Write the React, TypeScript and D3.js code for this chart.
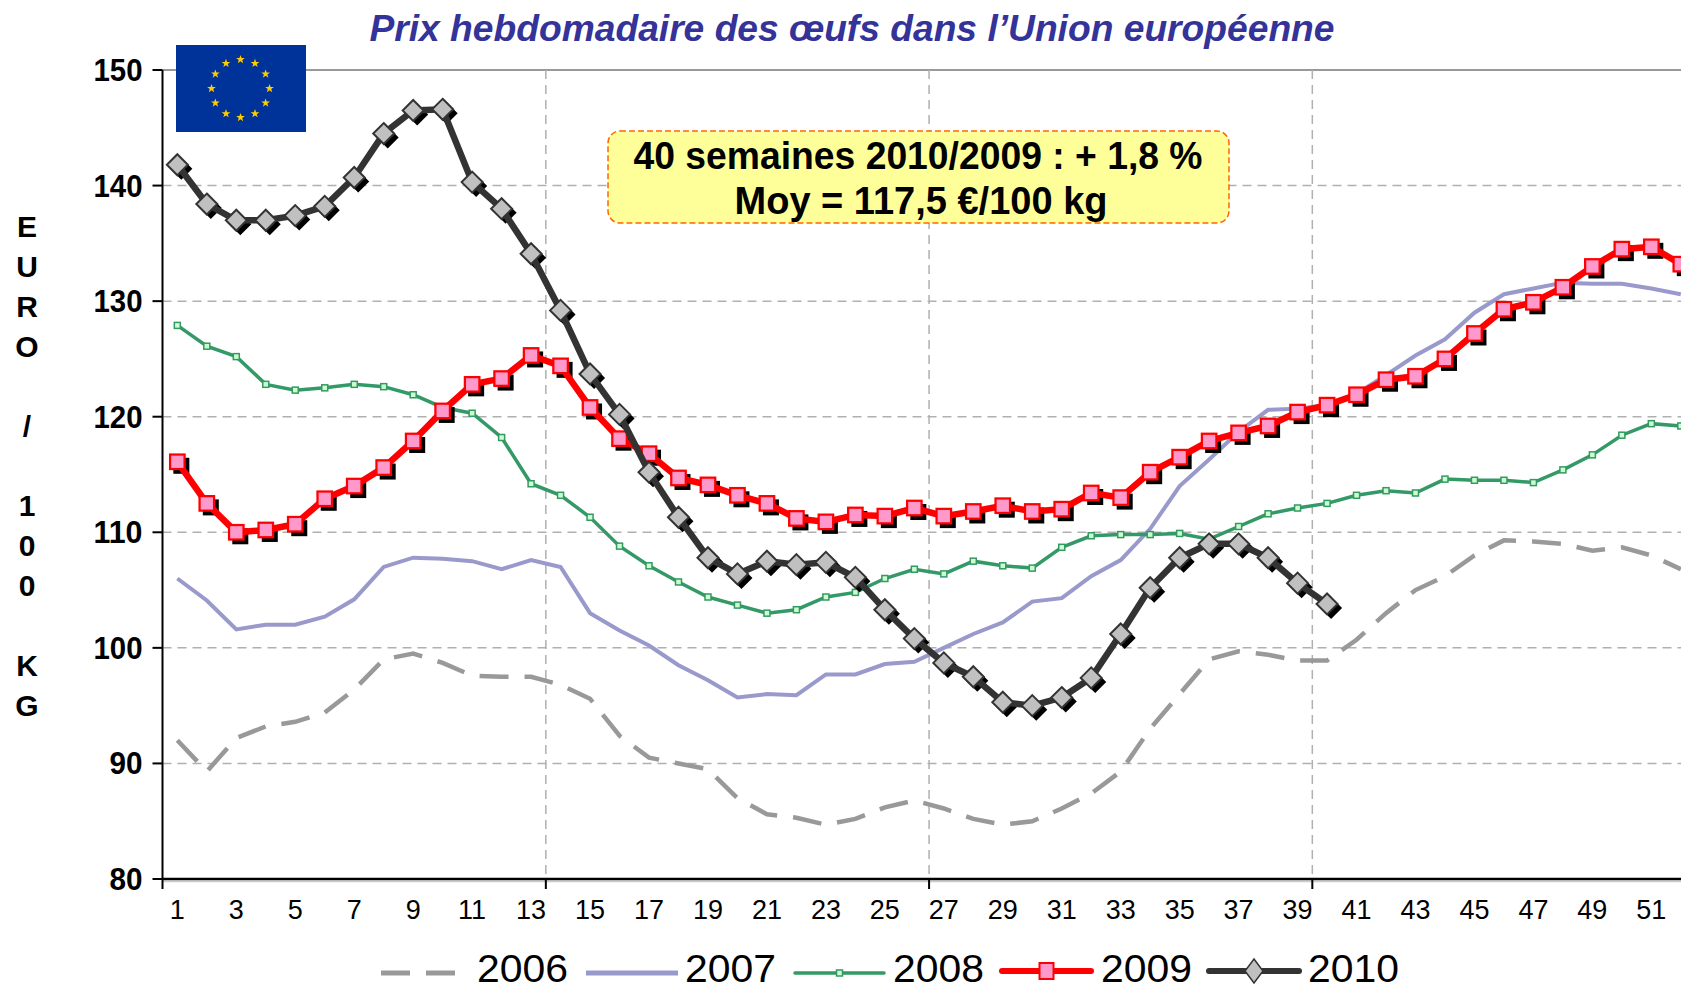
import React from "react";
import * as d3 from "d3";

const weeks = d3.range(1, 53);
const yTicks = [80, 90, 100, 110, 120, 130, 140, 150];
const gridWeeks = [13, 26, 39];
const y2006 = [92,89.3,92.2,93.2,93.6,94.4,96.4,99,99.5,98.7,97.6,97.5,97.5,96.8,95.6,92.4,90.5,90,89.5,87,85.6,85.3,84.7,85.2,86.2,86.8,86.1,85.2,84.7,85,86.1,87.4,89.3,93,96,99,99.7,99.4,98.9,98.9,100.7,103,105,106.2,108,109.3,109.2,109,108.4,108.7,108,106.8];
const y2007 = [106,104.1,101.6,102,102,102.7,104.2,107,107.8,107.7,107.5,106.8,107.6,107,103,101.5,100.2,98.5,97.2,95.7,96,95.9,97.7,97.7,98.6,98.8,100,101.2,102.2,104,104.3,106.2,107.6,110.3,114,116.3,118.7,120.6,120.7,121,122,123.6,125.3,126.7,129,130.6,131.1,131.6,131.5,131.5,131.1,130.6];
const y2008 = [127.9,126.1,125.2,122.8,122.3,122.5,122.8,122.6,121.9,120.8,120.3,118.2,114.2,113.2,111.3,108.8,107.1,105.7,104.4,103.7,103,103.3,104.4,104.8,106,106.8,106.4,107.5,107.1,106.9,108.7,109.7,109.8,109.8,109.9,109.4,110.5,111.6,112.1,112.5,113.2,113.6,113.4,114.6,114.5,114.5,114.3,115.4,116.7,118.4,119.4,119.2];
const y2009 = [116.1,112.5,110,110.2,110.7,112.9,114,115.6,117.9,120.5,122.8,123.3,125.3,124.4,120.8,118.1,116.8,114.7,114.1,113.2,112.5,111.2,110.9,111.5,111.4,112.1,111.4,111.8,112.3,111.8,112,113.4,113,115.2,116.5,117.9,118.6,119.2,120.4,121,121.9,123.2,123.5,125,127.2,129.3,129.9,131.2,133,134.5,134.7,133.2];
const y2010 = [141.8,138.4,137,137,137.4,138.2,140.7,144.5,146.5,146.6,140.3,138,134.1,129.2,123.7,120.2,115.2,111.3,107.8,106.4,107.5,107.2,107.4,106.1,103.3,100.8,98.7,97.5,95.3,95,95.7,97.4,101.2,105.2,107.8,109,109,107.8,105.6,103.8];
const yLabelChars = ["E", "U", "R", "O", "", "/", "", "1", "0", "0", "", "K", "G"];

const FONT = "'Liberation Sans', Arial, sans-serif";
const axisX = 162.5, bandStart = 162.6, bw = 29.48, top = 70, bottom = 879;
const x = d3.scaleBand<number>().domain(weeks).range([bandStart, bandStart + 52 * bw]);
const y = d3.scaleLinear().domain([80, 150]).range([bottom, top]);
const cx = (w: number) => (x(w) as number) + x.bandwidth() / 2;
const edge = (w: number) => bandStart + w * x.bandwidth();
const makeLine = (vals: number[]) =>
  d3.line<number>().x((_, i) => cx(i + 1)).y((v) => y(v))(vals) as string;

const diamond = (c: number, d: number, r: number) => `M${c},${d - r}L${c + r},${d}L${c},${d + r}L${c - r},${d}Z`;

function star(cxv: number, cyv: number, r: number) {
  const pts = d3.range(10).map((i) => {
    const a = -Math.PI / 2 + (i * Math.PI) / 5;
    const rr = i % 2 ? r * 0.4 : r;
    return `${cxv + rr * Math.cos(a)},${cyv + rr * Math.sin(a)}`;
  });
  return `M${pts.join("L")}Z`;
}

const legendItems = [
  { name: "2006", x1: 381, x2: 456, tx: 477 },
  { name: "2007", x1: 586, x2: 678, tx: 685 },
  { name: "2008", x1: 795, x2: 884, tx: 893 },
  { name: "2009", x1: 1002, x2: 1091, tx: 1101 },
  { name: "2010", x1: 1209, x2: 1299, tx: 1308 },
];

export default function App() {
  const flagCx = 240.5, flagCy = 88.5;
  return (
    <svg width={1681} height={990} viewBox="0 0 1681 990" style={{ position: "absolute", left: 0, top: 0, display: "block", background: "#fff" }} fontFamily={FONT}>
      {/* grid */}
      {yTicks.filter((t) => t > 80 && t < 150).map((t) => (
        <line key={t} x1={axisX} x2={1681} y1={y(t)} y2={y(t)} stroke="#b0b0b0" strokeWidth={1.5} strokeDasharray="9 6" />
      ))}
      <line x1={axisX} x2={1681} y1={y(150)} y2={y(150)} stroke="#999" strokeWidth={2} />
      {gridWeeks.map((w) => (
        <line key={w} x1={edge(w)} x2={edge(w)} y1={top} y2={bottom} stroke="#b0b0b0" strokeWidth={1.5} strokeDasharray="9 6" />
      ))}
      {/* axes */}
      <line x1={axisX} x2={1681} y1={bottom + 2.5} y2={bottom + 2.5} stroke="#ccc" strokeWidth={1.5} />
      <line x1={axisX} x2={axisX} y1={top} y2={bottom + 10} stroke="#000" strokeWidth={2} />
      <line x1={axisX} x2={1681} y1={bottom} y2={bottom} stroke="#000" strokeWidth={2.5} />
      {yTicks.map((t) => (
        <g key={t}>
          <line x1={axisX - 10} x2={axisX} y1={y(t)} y2={y(t)} stroke="#000" strokeWidth={2} />
          <text x={142.5} y={y(t) + 11} textAnchor="end" fontSize={31} fontWeight="bold" fill="#000" textLength={t >= 100 ? 49 : 33} lengthAdjust="spacingAndGlyphs">{t}</text>
        </g>
      ))}
      {gridWeeks.map((w) => (
        <line key={w} x1={edge(w)} x2={edge(w)} y1={bottom} y2={bottom + 10} stroke="#000" strokeWidth={2} />
      ))}
      {weeks.filter((w) => w % 2 === 1).map((w) => (
        <text key={w} x={cx(w)} y={919} textAnchor="middle" fontSize={27} fill="#000">{w}</text>
      ))}
      {/* y label */}
      {yLabelChars.map((c, i) => c ? (
        <text key={i} x={27} y={237 + i * 39.9} textAnchor="middle" fontSize={30} fontWeight="bold" fill="#000">{c}</text>
      ) : null)}
      {/* title */}
      <text x={852} y={41} textAnchor="middle" fontSize={36} fontWeight="bold" fontStyle="italic" fill="#333399" textLength={965} lengthAdjust="spacingAndGlyphs">Prix hebdomadaire des œufs dans l’Union européenne</text>
      {/* series */}
      <path d={makeLine(y2006)} fill="none" stroke="#999" strokeWidth={4.5} strokeDasharray="29 16" />
      <path d={makeLine(y2007)} fill="none" stroke="#9999cc" strokeWidth={4} />
      <path d={makeLine(y2008)} fill="none" stroke="#339966" strokeWidth={3.5} />
      {y2008.map((v, i) => (
        <rect key={i} x={cx(i + 1) - 3} y={y(v) - 3} width={6} height={6} fill="#ccffcc" stroke="#339966" strokeWidth={1.5} />
      ))}
      {y2009.map((v, i) => (
        <rect key={i} x={cx(i + 1) - 4} y={y(v) - 4} width={16} height={16} fill="#000" />
      ))}
      <path d={makeLine(y2009)} fill="none" stroke="#ff0000" strokeWidth={6.5} />
      {y2009.map((v, i) => (
        <rect key={i} x={cx(i + 1) - 7.25} y={y(v) - 7.25} width={14.5} height={14.5} fill="#ff99cc" stroke="#ff0000" strokeWidth={2.25} />
      ))}
      {y2010.map((v, i) => (
        <path key={i} d={diamond(cx(i + 1) + 4, y(v) + 4, 11)} fill="#000" />
      ))}
      <path d={makeLine(y2010)} fill="none" stroke="#333" strokeWidth={6.5} />
      {y2010.map((v, i) => (
        <path key={i} d={diamond(cx(i + 1), y(v), 10.5)} fill="#c0c0c0" stroke="#333" strokeWidth={2} />
      ))}
      {/* flag */}
      <rect x={176} y={45} width={130} height={87} fill="#003399" />
      {d3.range(12).map((i) => {
        const a = (i * Math.PI) / 6;
        return <path key={i} d={star(flagCx + 29 * Math.sin(a), flagCy - 29 * Math.cos(a), 4.6)} fill="#ffcc00" />;
      })}
      {/* note box */}
      <rect x={608} y={131} width={621} height={92} rx={12} ry={12} fill="#ffff99" stroke="#ff6600" strokeWidth={1.5} strokeDasharray="6 3" />
      <text x={918} y={169} textAnchor="middle" fontSize={38} fontWeight="bold" textLength={569} lengthAdjust="spacingAndGlyphs">40 semaines 2010/2009 : + 1,8 %</text>
      <text x={921} y={214} textAnchor="middle" fontSize={38} fontWeight="bold" textLength={373} lengthAdjust="spacingAndGlyphs">Moy = 117,5 €/100 kg</text>
      {/* legend */}
      {legendItems.map((it) => {
        const m = (it.x1 + it.x2) / 2;
        return (
          <g key={it.name}>
            {it.name === "2006" && <line x1={it.x1} x2={it.x2} y1={973} y2={973} stroke="#999" strokeWidth={5} strokeDasharray="29 16" />}
            {it.name === "2007" && <line x1={it.x1} x2={it.x2} y1={973} y2={973} stroke="#9999cc" strokeWidth={5} />}
            {it.name === "2008" && <g>
              <line x1={it.x1} x2={it.x2} y1={973} y2={973} stroke="#339966" strokeWidth={3.5} strokeLinecap="round" />
              <rect x={m - 3} y={970} width={6} height={6} fill="#ccffcc" stroke="#339966" strokeWidth={1.5} />
            </g>}
            {it.name === "2009" && <g>
              <line x1={it.x1} x2={it.x2} y1={971} y2={971} stroke="#ff0000" strokeWidth={6} strokeLinecap="round" />
              <rect x={m - 7} y={963} width={14} height={16} fill="#ff99cc" stroke="#ff0000" strokeWidth={2} />
            </g>}
            {it.name === "2010" && <g>
              <line x1={it.x1} x2={it.x2} y1={971} y2={971} stroke="#333" strokeWidth={6} strokeLinecap="round" />
              <path d={`M${m},959L${m + 9},971L${m},983L${m - 9},971Z`} fill="#c0c0c0" stroke="#333" strokeWidth={1.5} />
            </g>}
            <text x={it.tx} y={981.5} fontSize={38} fill="#000" textLength={91} lengthAdjust="spacingAndGlyphs">{it.name}</text>
          </g>
        );
      })}
    </svg>
  );
}
